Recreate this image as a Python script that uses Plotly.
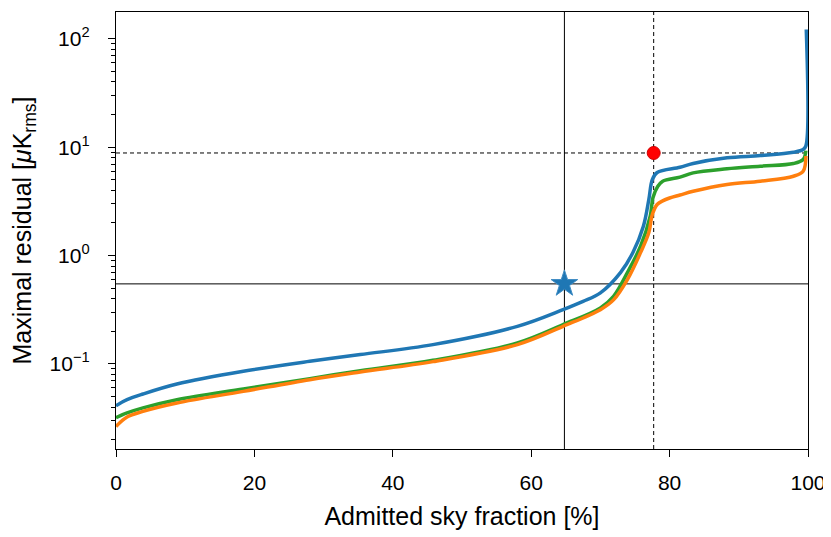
import plotly.graph_objects as go

# admitted sky fraction [%] and maximal residual [uK_rms]
x_blue = [0, 1.6, 3.9, 8.8, 18.4, 28.0, 35.3, 45.8, 58.0, 64.6, 67.5, 70.0, 72.9, 74.7,
          76.2, 77.0, 77.5, 78.2, 81.5, 83.4, 88.3, 93.1, 97.9, 99.3, 99.7, 99.75]
y_blue = [0.0412, 0.0468, 0.0528, 0.0653, 0.0855, 0.1057, 0.122, 0.1508, 0.2225, 0.317,
          0.378, 0.453, 0.697, 1.066, 1.853, 3.29, 5.03, 5.84, 6.53, 7.07, 7.98, 8.38,
          8.99, 9.52, 10.3, 122]

x_green = [0, 1.6, 3.9, 8.8, 18.4, 28.0, 35.3, 45.8, 58.0, 64.6, 70.0, 71.9, 73.9, 75.8,
           77.2, 77.6, 78.3, 79.0, 81.5, 83.4, 88.3, 93.1, 97.9, 99.3, 99.7]
y_green = [0.0319, 0.0353, 0.0393, 0.0468, 0.0588, 0.0731, 0.0867, 0.108, 0.1563, 0.2307,
           0.329, 0.421, 0.697, 1.219, 2.31, 3.43, 4.36, 4.86, 5.30, 5.80, 6.32, 6.68,
           7.07, 7.70, 9.3]

x_orange = [0, 1.6, 3.9, 8.8, 18.4, 28.0, 35.3, 45.8, 58.0, 64.6, 70.0, 71.9, 73.9, 75.8,
            77.0, 77.5, 78.2, 79.0, 80.0, 81.5, 83.4, 88.3, 93.1, 97.9, 99.3, 99.7]
y_orange = [0.0265, 0.0324, 0.0365, 0.0436, 0.0558, 0.0716, 0.0843, 0.105, 0.1508, 0.2225,
            0.317, 0.39, 0.600, 1.066, 1.63, 2.39, 2.96, 3.20, 3.40, 3.62, 3.92, 4.53,
            4.86, 5.40, 6.0, 8.3]

# reference points
star_x, star_y = 64.8, 0.548
dot_x, dot_y = 77.7, 8.85

y_ticks = [0.1, 1, 10, 100]
y_labels = ['10<sup>−1</sup>', '10<sup>0</sup>', '10<sup>1</sup>', '10<sup>2</sup>']
y_minor = [m * 10 ** e for e in (-2, -1, 0, 1, 2) for m in range(2, 10)]
y_range = [0.0164, 177]

fig = go.Figure()

# guide lines
fig.add_trace(go.Scatter(x=[0, 100], y=[star_y, star_y], mode='lines',
                         line=dict(color='black', width=1)))
fig.add_trace(go.Scatter(x=[star_x, star_x], y=y_range, mode='lines',
                         line=dict(color='black', width=1)))
fig.add_trace(go.Scatter(x=[0, 100], y=[dot_y, dot_y], mode='lines',
                         line=dict(color='black', width=1, dash='4px,3px')))
fig.add_trace(go.Scatter(x=[dot_x, dot_x], y=y_range, mode='lines',
                         line=dict(color='black', width=1, dash='4px,3px')))

for xs, ys, c in [(x_green, y_green, '#2ca02c'), (x_orange, y_orange, '#ff7f0e'),
                  (x_blue, y_blue, '#1f77b4')]:
    fig.add_trace(go.Scatter(x=xs, y=ys, mode='lines',
                             line=dict(color=c, width=3.5, shape='spline', smoothing=1.0)))

fig.add_trace(go.Scatter(x=[star_x], y=[star_y], mode='markers',
                         marker=dict(symbol='star', size=20, color='#1f77b4',
                                     line=dict(color='#3f8cc4', width=1))))
fig.add_trace(go.Scatter(x=[dot_x], y=[dot_y], mode='markers',
                         marker=dict(symbol='circle', size=13, color='red',
                                     line=dict(color='#d00000', width=1))))

fig.update_layout(width=823, height=529, showlegend=False,
                  plot_bgcolor='white', paper_bgcolor='white',
                  margin=dict(l=108, r=23, t=4, b=88),
                  font=dict(family='Liberation Sans', size=21, color='black'))

fig.update_xaxes(range=[0, 100], tickvals=[0, 20, 40, 60, 80, 100],
                 showline=True, linecolor='black', linewidth=1.3, mirror=True,
                 ticks='outside', ticklen=7, tickcolor='black', tickwidth=1.3,
                 ticklabelstandoff=8, showgrid=False, zeroline=False,
                 title=dict(text='Admitted sky fraction [%]', standoff=14))
fig.update_yaxes(type='log', range=[-1.785, 2.248], tickmode='array',
                 tickvals=y_ticks, ticktext=y_labels,
                 showline=True, linecolor='black', linewidth=1.3, mirror=True,
                 ticks='outside', ticklen=7, tickcolor='black', tickwidth=1.3,
                 ticklabelstandoff=14, showgrid=False, zeroline=False,
                 minor=dict(tickmode='array', tickvals=y_minor, ticks='outside',
                            ticklen=4, tickcolor='black', showgrid=False),
                 title=dict(text='Maximal residual [<i>μ</i>K<sub>rms</sub>]', standoff=18))

fig.write_html("out.html")
